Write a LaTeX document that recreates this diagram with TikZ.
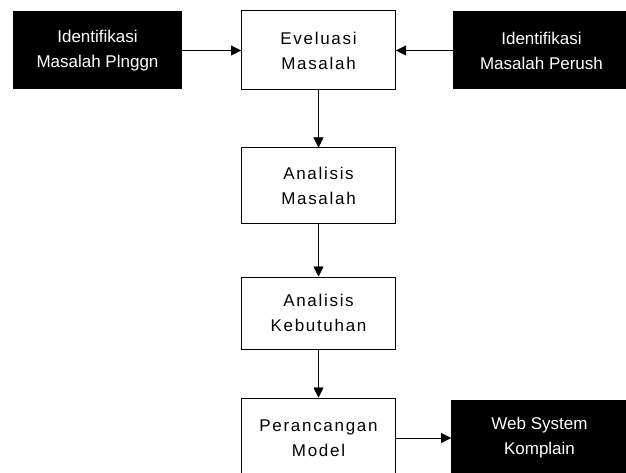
\documentclass[tikz,border=0pt]{standalone}
\usepackage{fontspec}
\setmainfont{Liberation Sans}
\newfontfamily\spacedfont[LetterSpace=10]{Liberation Sans}
\usetikzlibrary{positioning,arrows.meta}

\begin{document}
\begin{tikzpicture}[x=1pt, y=1pt, node distance=57pt,
  box/.style={draw, align=center, inner sep=0pt, line width=1pt},
  whitebox/.style={box, minimum width=154pt, font=\spacedfont\fontsize{17}{25}\selectfont},
  blackbox/.style={box, fill=black, text=white, minimum height=77pt, font=\fontsize{17}{25}\selectfont},
  >={Triangle[length=10pt,width=10pt]}]
\useasboundingbox (0,0) rectangle (626,-473);
\node[whitebox, minimum height=79pt] (eval) at (318.5,-50.5) {Eveluasi\\Masalah};
\node[whitebox, minimum height=75pt, below=57pt of eval] (anmas) {Analisis\\Masalah};
\node[whitebox, minimum height=72pt, below=53pt of anmas] (ankeb) {Analisis\\Kebutuhan};
\node[whitebox, minimum height=80pt, below=48pt of ankeb] (model) {Perancangan\\Model};
\node[blackbox, minimum width=168pt, left=59pt of eval] (pelanggan) {Identifikasi\\Masalah Plnggn};
\node[blackbox, minimum width=176pt, right=57pt of eval] (perusahaan) {Identifikasi\\Masalah Perush};
\node[blackbox, minimum width=176pt, minimum height=76pt, right=55pt of model] (web) {Web System\\Komplain};
\draw[->] (pelanggan.east) -- (eval.west);
\draw[->] (perusahaan.west) -- (eval.east);
\draw[->] (eval) -- (anmas);
\draw[->] (anmas) -- (ankeb);
\draw[->] (ankeb) -- (model);
\draw[->] (model.east) -- (web.west);
\end{tikzpicture}
\end{document}
